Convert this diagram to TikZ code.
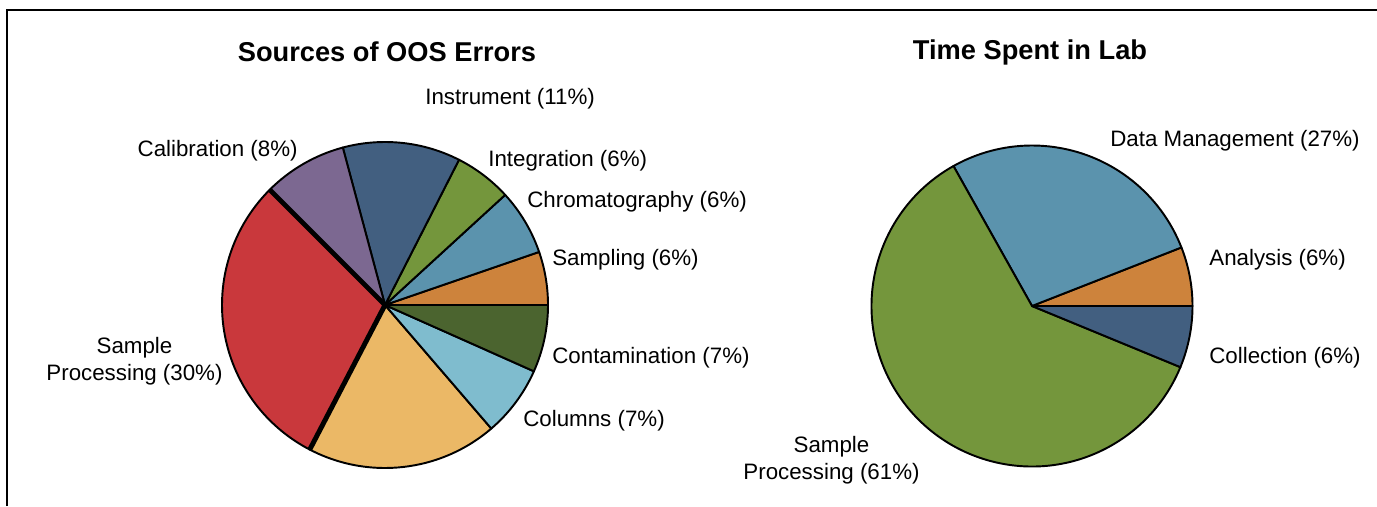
\documentclass[tikz,border=0pt]{standalone}
\usepackage{fontspec}
\setmainfont{Liberation Sans}
\definecolor{pieorange}{HTML}{CD833C}
\definecolor{piesteel}{HTML}{5B93AD}
\definecolor{piegreen}{HTML}{74963C}
\definecolor{pienavy}{HTML}{425F80}
\definecolor{piepurple}{HTML}{7C6891}
\definecolor{piered}{HTML}{C9383C}
\definecolor{pieyellow}{HTML}{EBB866}
\definecolor{pielight}{HTML}{7FBCCE}
\definecolor{piedark}{HTML}{4B642F}
\tikzset{
  wedge/.style={draw=black,line width=1.1pt,line join=round},
  lbl/.style={font=\fontsize{12.7}{15.5}\selectfont,inner sep=0pt},
  ttl/.style={font=\bfseries\fontsize{15.5}{18}\selectfont,inner sep=0pt}
}
\begin{document}
\begin{tikzpicture}
    \useasboundingbox (0,0) rectangle (27.54,10.12);
    \draw[line width=1pt] (0.14,0) -- (0.14,9.92) -- (27.54,9.92);
    % --- (a) sources of OOS errors
    \begin{scope}[shift={(7.70,4.02)}]
      \foreach \a/\b/\c in {0/19/pieorange,19/42.5/piesteel,42.5/63/piegreen,
                            63/105/pienavy,105/135/piepurple,135/242.5/piered,
                            242.5/310.7/pieyellow,310.7/336/pielight,336/360/piedark} {
        \filldraw[wedge,fill=\c] (0,0) -- (\a:3.26) arc (\a:\b:3.26) -- cycle;
      }
      \draw[line width=2.8pt] (135:3.26) -- (0,0) -- (242.5:3.26);
      \node[ttl] (ttlA) at (0.04,5.06) {Sources of OOS Errors};
      \node[lbl,anchor=west] (instr) at (0.80,4.12) {Instrument (11\%)};
      \node[lbl,anchor=east] (calib) at (-1.74,3.08) {Calibration (8\%)};
      \node[lbl,anchor=west] (integ) at (2.06,2.88) {Integration (6\%)};
      \node[lbl,anchor=west] (chrom) at (2.84,2.06) {Chromatography (6\%)};
      \node[lbl,anchor=west] (sampA) at (3.34,0.90) {Sampling (6\%)};
      \node[lbl,anchor=west] (contam) at (3.34,-1.06) {Contamination (7\%)};
      \node[lbl,anchor=west] (colmn) at (2.76,-2.32) {Columns (7\%)};
      \node[lbl,align=center] (procA) at (-5.01,-1.13) {Sample\\Processing (30\%)};
    \end{scope}
    % --- (b) time spent in lab
    \begin{scope}[shift={(20.64,4.00)}]
      \foreach \a/\b/\c in {0/21.4/pieorange,21.4/119.3/piesteel,
                            119.3/337.6/piegreen,337.6/360/pienavy} {
        \filldraw[wedge,fill=\c] (0,0) -- (\a:3.21) arc (\a:\b:3.21) -- cycle;
      }
      \node[ttl] (ttlB) at (-0.04,5.08) {Time Spent in Lab};
      \node[lbl,anchor=west] (datam) at (1.56,3.30) {Data Management (27\%)};
      \node[lbl,anchor=west] (anlys) at (3.54,0.92) {Analysis (6\%)};
      \node[lbl,anchor=west] (collc) at (3.54,-1.04) {Collection (6\%)};
      \node[lbl,align=center] (procB) at (-4.01,-3.08) {Sample\\Processing (61\%)};
    \end{scope}
\end{tikzpicture}
\end{document}
